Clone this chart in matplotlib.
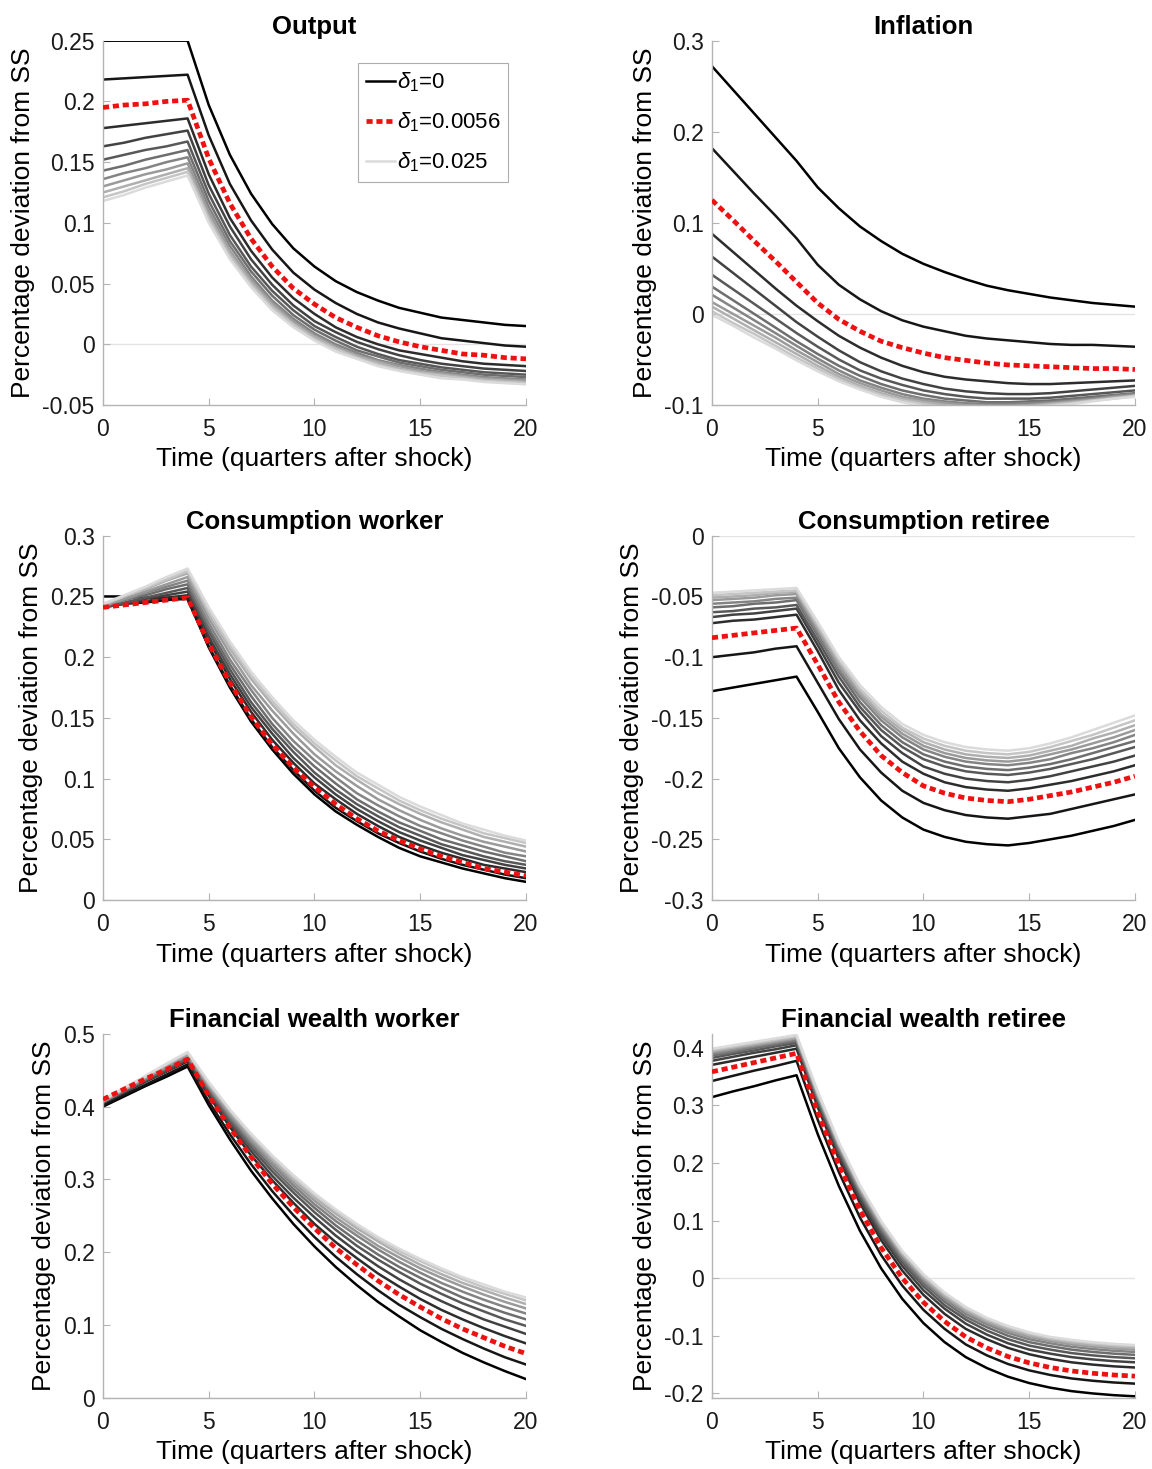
import numpy as np
import matplotlib.pyplot as plt
from matplotlib.ticker import FuncFormatter

plt.rcParams['font.family'] = ['Liberation Sans', 'DejaVu Sans']
plt.rcParams['mathtext.fontset'] = 'custom'
plt.rcParams['mathtext.rm'] = 'Liberation Sans'
plt.rcParams['mathtext.it'] = 'Liberation Sans:italic'

quarters = np.arange(21)
delta_grid = [0, 0.0025, 0.005, 0.0075, 0.01, 0.0125, 0.015, 0.0175, 0.02, 0.0225, 0.025]
delta_red = 0.0056

# impulse responses, one row per delta_1 in delta_grid
output_grid = [
    [.250, .250, .250, .250, .250, .197, .156, .124, .099, .079, .064, .052, .043, .036, .030, .026, .022, .020, .018, .016, .015],
    [.218, .219, .220, .221, .222, .172, .132, .102, .078, .059, .045, .034, .025, .018, .013, .009, .005, .003, .001, -.001, -.002],
    [.178, .180, .182, .184, .186, .140, .104, .077, .055, .038, .025, .014, .006, .000, -.005, -.008, -.011, -.014, -.016, -.017, -.018],
    [.163, .166, .170, .173, .176, .131, .097, .070, .049, .032, .019, .010, .002, -.004, -.009, -.013, -.016, -.018, -.020, -.021, -.022],
    [.152, .156, .160, .163, .167, .124, .090, .064, .044, .028, .015, .006, -.002, -.008, -.013, -.016, -.019, -.021, -.023, -.024, -.025],
    [.143, .147, .152, .156, .160, .118, .085, .060, .040, .024, .012, .003, -.005, -.010, -.015, -.018, -.021, -.023, -.025, -.026, -.027],
    [.136, .141, .145, .150, .154, .113, .081, .056, .036, .021, .009, .000, -.007, -.013, -.017, -.020, -.023, -.025, -.027, -.028, -.029],
    [.130, .135, .140, .144, .149, .109, .077, .053, .034, .019, .007, -.002, -.009, -.014, -.018, -.022, -.024, -.026, -.028, -.029, -.030],
    [.125, .130, .135, .140, .145, .105, .075, .051, .032, .017, .006, -.003, -.010, -.015, -.020, -.023, -.025, -.027, -.029, -.030, -.031],
    [.121, .126, .132, .137, .142, .103, .072, .049, .030, .016, .004, -.004, -.011, -.017, -.021, -.024, -.026, -.028, -.030, -.031, -.032],
    [.118, .123, .129, .134, .139, .100, .070, .047, .028, .014, .003, -.006, -.012, -.018, -.022, -.025, -.028, -.029, -.031, -.032, -.033],
]
output_red = [.195, .197, .198, .200, .201, .153, .116, .087, .064, .046, .033, .022, .014, .007, .002, -.002, -.005, -.008, -.009, -.011, -.012]

inflation_grid = [
    [.272, .246, .220, .194, .168, .139, .116, .096, .080, .066, .055, .046, .038, .031, .026, .022, .018, .015, .012, .010, .008],
    [.182, .157, .132, .108, .083, .054, .032, .016, .003, -.007, -.014, -.019, -.024, -.027, -.029, -.031, -.033, -.034, -.034, -.035, -.036],
    [.088, .068, .048, .028, .009, -.008, -.024, -.037, -.048, -.057, -.064, -.069, -.072, -.074, -.076, -.077, -.077, -.076, -.075, -.074, -.073],
    [.063, .045, .027, .009, -.009, -.025, -.040, -.053, -.063, -.071, -.077, -.082, -.085, -.087, -.088, -.088, -.087, -.085, -.083, -.081, -.079],
    [.043, .027, .011, -.005, -.021, -.036, -.050, -.062, -.071, -.078, -.084, -.088, -.091, -.093, -.093, -.093, -.092, -.090, -.088, -.086, -.084],
    [.030, .015, .000, -.015, -.030, -.044, -.057, -.068, -.077, -.084, -.089, -.093, -.095, -.097, -.097, -.096, -.095, -.093, -.091, -.089, -.087],
    [.021, .007, -.007, -.021, -.035, -.049, -.062, -.073, -.081, -.088, -.093, -.096, -.098, -.099, -.099, -.098, -.097, -.095, -.093, -.090, -.088],
    [.013, .000, -.013, -.026, -.040, -.053, -.066, -.076, -.084, -.091, -.095, -.098, -.100, -.101, -.101, -.100, -.098, -.096, -.094, -.091, -.089],
    [.008, -.005, -.018, -.031, -.044, -.057, -.069, -.079, -.087, -.093, -.097, -.100, -.102, -.102, -.102, -.101, -.099, -.097, -.095, -.092, -.090],
    [.003, -.010, -.022, -.035, -.048, -.060, -.072, -.081, -.089, -.095, -.099, -.102, -.103, -.103, -.103, -.102, -.100, -.098, -.095, -.093, -.090],
    [-.001, -.013, -.026, -.038, -.051, -.063, -.074, -.083, -.091, -.097, -.101, -.103, -.104, -.104, -.104, -.102, -.101, -.099, -.096, -.093, -.091],
]
inflation_red = [.125, .103, .080, .058, .035, .012, -.006, -.019, -.030, -.037, -.043, -.048, -.051, -.054, -.056, -.057, -.058, -.059, -.060, -.060, -.061]

cons_worker_grid = [
    [.250, .250, .249, .249, .248, .208, .175, .147, .124, .104, .087, .073, .062, .052, .043, .036, .031, .026, .022, .018, .015],
    [.242, .244, .245, .247, .248, .209, .177, .149, .126, .107, .090, .076, .065, .055, .047, .040, .034, .029, .025, .021, .018],
    [.241, .244, .246, .249, .251, .214, .182, .155, .132, .113, .096, .083, .071, .061, .052, .045, .039, .034, .029, .026, .023],
    [.241, .244, .248, .251, .254, .217, .186, .159, .137, .117, .101, .087, .075, .065, .056, .049, .043, .037, .033, .029, .026],
    [.241, .245, .249, .253, .257, .221, .190, .163, .141, .122, .105, .091, .079, .069, .060, .053, .046, .041, .036, .032, .029],
    [.242, .247, .251, .256, .260, .224, .194, .168, .145, .126, .110, .096, .083, .073, .064, .057, .050, .045, .040, .036, .032],
    [.242, .247, .253, .258, .263, .228, .198, .173, .150, .131, .115, .101, .088, .078, .069, .061, .055, .049, .044, .039, .036],
    [.242, .248, .254, .260, .266, .232, .203, .177, .156, .137, .120, .106, .094, .083, .074, .066, .059, .053, .048, .044, .040],
    [.243, .250, .256, .263, .269, .236, .207, .182, .161, .142, .126, .111, .099, .088, .079, .071, .064, .058, .052, .048, .044],
    [.243, .250, .257, .264, .271, .238, .210, .185, .164, .145, .129, .115, .102, .092, .082, .074, .067, .061, .055, .051, .047],
    [.244, .251, .258, .266, .273, .241, .213, .188, .167, .148, .132, .118, .105, .095, .085, .077, .070, .063, .058, .053, .049],
]
cons_worker_red = [.241, .243, .245, .247, .249, .211, .179, .151, .128, .109, .093, .079, .067, .057, .049, .042, .036, .031, .026, .023, .020]

cons_retiree_grid = [
    [-.128, -.125, -.122, -.119, -.116, -.145, -.175, -.199, -.218, -.232, -.242, -.248, -.252, -.254, -.255, -.253, -.250, -.247, -.243, -.239, -.234],
    [-.100, -.098, -.096, -.093, -.091, -.121, -.151, -.176, -.195, -.210, -.220, -.226, -.230, -.232, -.233, -.231, -.229, -.225, -.221, -.217, -.213],
    [-.072, -.070, -.069, -.067, -.065, -.095, -.127, -.152, -.171, -.186, -.196, -.203, -.207, -.209, -.210, -.208, -.205, -.202, -.198, -.194, -.189],
    [-.067, -.065, -.064, -.062, -.060, -.090, -.121, -.145, -.165, -.179, -.190, -.196, -.200, -.202, -.203, -.201, -.198, -.194, -.190, -.186, -.181],
    [-.063, -.062, -.060, -.059, -.057, -.086, -.116, -.141, -.160, -.174, -.184, -.190, -.194, -.196, -.197, -.195, -.192, -.188, -.184, -.179, -.174],
    [-.059, -.058, -.056, -.055, -.053, -.082, -.112, -.137, -.156, -.170, -.180, -.186, -.190, -.192, -.193, -.191, -.188, -.184, -.179, -.174, -.169],
    [-.056, -.055, -.054, -.052, -.051, -.080, -.110, -.133, -.152, -.166, -.176, -.182, -.186, -.188, -.189, -.187, -.184, -.179, -.175, -.170, -.164],
    [-.053, -.052, -.051, -.049, -.048, -.077, -.107, -.130, -.149, -.163, -.173, -.179, -.183, -.185, -.186, -.184, -.180, -.176, -.171, -.166, -.160],
    [-.051, -.050, -.049, -.047, -.046, -.075, -.104, -.128, -.147, -.160, -.170, -.176, -.180, -.182, -.183, -.181, -.177, -.173, -.167, -.162, -.156],
    [-.049, -.048, -.047, -.046, -.045, -.073, -.102, -.126, -.144, -.158, -.167, -.173, -.177, -.179, -.180, -.178, -.174, -.169, -.164, -.158, -.152],
    [-.047, -.046, -.045, -.044, -.043, -.071, -.100, -.123, -.141, -.155, -.164, -.170, -.174, -.176, -.177, -.175, -.171, -.166, -.160, -.154, -.148],
]
cons_retiree_red = [-.084, -.082, -.080, -.078, -.076, -.106, -.137, -.161, -.181, -.195, -.206, -.212, -.216, -.218, -.219, -.217, -.214, -.211, -.207, -.203, -.198]

wealth_worker_grid = [
    [.400, .414, .428, .441, .455, .402, .355, .312, .274, .239, .208, .180, .155, .132, .112, .093, .077, .062, .049, .037, .026],
    [.402, .416, .430, .444, .458, .407, .362, .321, .284, .251, .221, .194, .170, .148, .128, .111, .095, .081, .068, .056, .046],
    [.405, .419, .434, .448, .462, .415, .372, .333, .299, .268, .239, .214, .192, .171, .153, .136, .121, .108, .096, .085, .075],
    [.405, .420, .435, .449, .464, .418, .376, .339, .305, .275, .248, .223, .201, .181, .163, .147, .133, .120, .108, .098, .088],
    [.406, .421, .436, .451, .466, .421, .380, .344, .311, .282, .255, .231, .209, .190, .173, .157, .143, .130, .119, .108, .099],
    [.406, .422, .437, .453, .468, .424, .384, .348, .316, .287, .261, .237, .216, .197, .180, .165, .151, .138, .127, .117, .108],
    [.407, .423, .439, .454, .470, .427, .387, .352, .321, .292, .266, .243, .223, .204, .187, .172, .158, .146, .135, .125, .116],
    [.407, .423, .439, .455, .471, .428, .390, .355, .324, .296, .271, .248, .228, .209, .193, .178, .165, .153, .142, .132, .123],
    [.408, .424, .441, .457, .473, .431, .393, .359, .328, .300, .275, .253, .233, .215, .198, .183, .170, .158, .148, .138, .129],
    [.408, .425, .441, .458, .474, .432, .395, .361, .331, .303, .279, .257, .237, .219, .202, .188, .175, .163, .152, .143, .134],
    [.409, .426, .442, .459, .475, .434, .396, .363, .333, .306, .281, .259, .239, .221, .205, .191, .178, .166, .156, .146, .138],
]
wealth_worker_red = [.410, .424, .438, .451, .465, .415, .371, .331, .294, .262, .233, .206, .183, .161, .142, .125, .109, .095, .083, .071, .061]

wealth_retiree_grid = [
    [.314, .324, .333, .343, .352, .250, .160, .082, .017, -.036, -.078, -.111, -.137, -.156, -.171, -.182, -.190, -.196, -.200, -.203, -.205],
    [.342, .351, .360, .368, .377, .275, .184, .105, .040, -.013, -.055, -.088, -.115, -.134, -.149, -.160, -.168, -.174, -.178, -.181, -.183],
    [.370, .377, .384, .391, .398, .297, .207, .130, .066, .013, -.029, -.062, -.088, -.106, -.121, -.132, -.140, -.146, -.150, -.153, -.155],
    [.377, .384, .391, .397, .404, .303, .214, .137, .073, .021, -.021, -.053, -.079, -.098, -.113, -.124, -.131, -.137, -.141, -.144, -.146],
    [.382, .389, .395, .402, .408, .308, .219, .143, .079, .027, -.014, -.047, -.072, -.091, -.106, -.117, -.124, -.130, -.134, -.137, -.139],
    [.386, .392, .399, .405, .411, .311, .223, .147, .084, .032, -.009, -.041, -.067, -.085, -.100, -.111, -.118, -.124, -.128, -.131, -.133],
    [.389, .395, .402, .408, .414, .315, .227, .151, .088, .036, -.004, -.036, -.062, -.080, -.095, -.106, -.113, -.119, -.123, -.126, -.128],
    [.392, .398, .404, .410, .416, .317, .230, .154, .092, .040, -.001, -.033, -.058, -.077, -.091, -.102, -.109, -.115, -.119, -.122, -.124],
    [.394, .400, .406, .412, .418, .319, .232, .157, .094, .042, .002, -.030, -.055, -.074, -.088, -.099, -.106, -.112, -.116, -.119, -.121],
    [.396, .402, .408, .414, .420, .322, .234, .159, .097, .045, .005, -.027, -.052, -.071, -.085, -.096, -.104, -.109, -.113, -.116, -.118],
    [.398, .404, .410, .416, .422, .324, .236, .161, .099, .047, .007, -.025, -.050, -.069, -.083, -.094, -.102, -.107, -.111, -.114, -.116],
]
wealth_retiree_red = [.358, .366, .374, .382, .390, .288, .197, .118, .053, .000, -.042, -.075, -.102, -.121, -.136, -.147, -.155, -.161, -.165, -.168, -.170]

panels = [
    ("Output", output_grid, output_red, (-0.05, 0.25), np.arange(-0.05, 0.26, 0.05)),
    ("Inflation", inflation_grid, inflation_red, (-0.1, 0.3), np.arange(-0.1, 0.31, 0.1)),
    ("Consumption worker", cons_worker_grid, cons_worker_red, (0, 0.3), np.arange(0, 0.31, 0.05)),
    ("Consumption retiree", cons_retiree_grid, cons_retiree_red, (-0.3, 0), np.arange(-0.3, 0.01, 0.05)),
    ("Financial wealth worker", wealth_worker_grid, wealth_worker_red, (0, 0.5), np.arange(0, 0.51, 0.1)),
    ("Financial wealth retiree", wealth_retiree_grid, wealth_retiree_red, (-0.208, 0.424), np.arange(-0.2, 0.41, 0.1)),
]

# axes rectangles in figure fractions
col_left = [0.0894, 0.618]
row_bottom = [0.7243, 0.3873, 0.0483]
ax_w, ax_h = 0.3672, 0.2480

grays = np.linspace(0.0, 0.86, len(delta_grid))
axis_gray = '#b4b4b4'
fmt = FuncFormatter(lambda v, _: f"{round(v, 4) + 0.0:g}")

fig = plt.figure(figsize=(11.52, 14.69), dpi=100)

for i, (title, grid, red, ylim, yticks) in enumerate(panels):
    ax = fig.add_axes([col_left[i % 2], row_bottom[i // 2], ax_w, ax_h])
    ax.axhline(0, color='#e3e3e3', lw=1.0, zorder=1)
    handles = []
    for g, series in zip(grays, grid):
        h, = ax.plot(quarters, series, color=str(g), lw=1.8, zorder=2)
        handles.append(h)
    hr, = ax.plot(quarters, red, color='#ee1111', lw=3.4, dashes=(1.3, 0.8),
                  zorder=3)

    ax.set_xlim(0, 20)
    ax.set_ylim(*ylim)
    ax.set_xticks([0, 5, 10, 15, 20])
    ax.set_yticks(yticks)
    ax.yaxis.set_major_formatter(fmt)
    ax.set_title(title, fontsize=18.5, fontweight='bold', pad=5)
    ax.set_xlabel('Time (quarters after shock)', fontsize=19, labelpad=5)
    ax.set_ylabel('Percentage deviation from SS', fontsize=19, labelpad=5)
    for side in ('top', 'right'):
        ax.spines[side].set_visible(False)
    for side in ('left', 'bottom'):
        ax.spines[side].set_color(axis_gray)
        ax.spines[side].set_linewidth(1.0)
    ax.tick_params(direction='in', length=5, width=0.8, color=axis_gray,
                   labelsize=16.5, labelcolor='#1a1a1a')
    ax.tick_params(axis='x', pad=9)
    ax.tick_params(axis='y', pad=6)

    if i == 0:
        leg = ax.legend([handles[0], hr, handles[-1]],
                        [r'$\delta_1$=0', r'$\delta_1$=%g' % delta_red,
                         r'$\delta_1$=%g' % delta_grid[-1]],
                        loc='upper left', bbox_to_anchor=(0.603, 0.94),
                        fontsize=16, frameon=True, fancybox=False,
                        handlelength=1.3, handletextpad=0.1,
                        labelspacing=0.75, borderpad=0.35, borderaxespad=0)
        leg.get_frame().set_edgecolor('#999999')
        leg.get_frame().set_linewidth(0.8)

fig.savefig('out.png', dpi=100)
